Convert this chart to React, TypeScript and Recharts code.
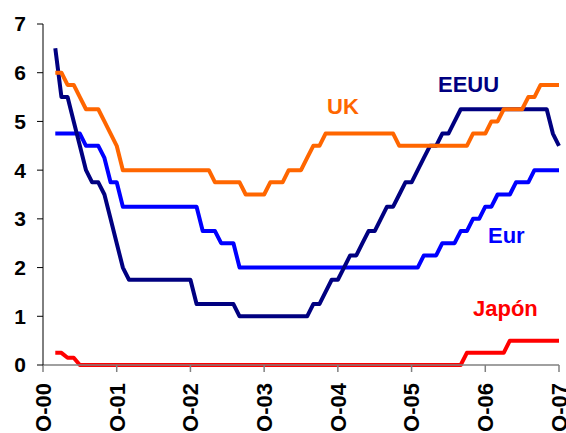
import React from "react";
import { LineChart, Line, XAxis, YAxis } from "recharts";

// Month index 0 = October 2000; first data point is December 2000 (index 2), last October 2007 (index 84)
const FIRST_MONTH = 2;

const X_TICKS = [0, 12, 24, 36, 48, 60, 72, 84];
const X_TICK_LABELS = ["O-00", "O-01", "O-02", "O-03", "O-04", "O-05", "O-06", "O-07"];
const Y_TICKS = [0, 1, 2, 3, 4, 5, 6, 7];

const EEUU = [
  6.5, 5.5, 5.5, 5.0, 4.5, 4.0, 3.75, 3.75, 3.5, 3.0, 2.5, 2.0, 1.75,
  1.75, 1.75, 1.75, 1.75, 1.75, 1.75, 1.75, 1.75, 1.75, 1.75,
  1.25, 1.25, 1.25, 1.25, 1.25, 1.25, 1.25,
  1.0, 1.0, 1.0, 1.0, 1.0, 1.0, 1.0, 1.0, 1.0, 1.0, 1.0, 1.0,
  1.25, 1.25, 1.5, 1.75, 1.75, 2.0, 2.25, 2.25, 2.5, 2.75, 2.75, 3.0, 3.25, 3.25,
  3.5, 3.75, 3.75, 4.0, 4.25, 4.5, 4.5, 4.75, 4.75, 5.0, 5.25,
  5.25, 5.25, 5.25, 5.25, 5.25, 5.25, 5.25, 5.25, 5.25, 5.25, 5.25, 5.25, 5.25, 5.25,
  4.75, 4.5,
];

const UK = [
  6.0, 6.0, 5.75, 5.75, 5.5, 5.25, 5.25, 5.25, 5.0, 4.75, 4.5, 4.0,
  4.0, 4.0, 4.0, 4.0, 4.0, 4.0, 4.0, 4.0, 4.0, 4.0, 4.0, 4.0, 4.0, 4.0,
  3.75, 3.75, 3.75, 3.75, 3.75,
  3.5, 3.5, 3.5, 3.5,
  3.75, 3.75, 3.75,
  4.0, 4.0, 4.0,
  4.25, 4.5, 4.5,
  4.75, 4.75, 4.75, 4.75, 4.75, 4.75, 4.75, 4.75, 4.75, 4.75, 4.75, 4.75,
  4.5, 4.5, 4.5, 4.5, 4.5, 4.5, 4.5, 4.5, 4.5, 4.5, 4.5, 4.5,
  4.75, 4.75, 4.75,
  5.0, 5.0,
  5.25, 5.25, 5.25, 5.25,
  5.5, 5.5,
  5.75, 5.75, 5.75, 5.75,
];

const EUR = [
  4.75, 4.75, 4.75, 4.75, 4.75,
  4.5, 4.5, 4.5,
  4.25,
  3.75, 3.75,
  3.25, 3.25, 3.25, 3.25, 3.25, 3.25, 3.25, 3.25, 3.25, 3.25, 3.25, 3.25, 3.25,
  2.75, 2.75, 2.75,
  2.5, 2.5, 2.5,
  2.0, 2.0, 2.0, 2.0, 2.0, 2.0, 2.0, 2.0, 2.0, 2.0,
  2.0, 2.0, 2.0, 2.0, 2.0, 2.0, 2.0, 2.0, 2.0, 2.0,
  2.0, 2.0, 2.0, 2.0, 2.0, 2.0, 2.0, 2.0, 2.0, 2.0,
  2.25, 2.25, 2.25,
  2.5, 2.5, 2.5,
  2.75, 2.75,
  3.0, 3.0,
  3.25, 3.25,
  3.5, 3.5, 3.5,
  3.75, 3.75, 3.75,
  4.0, 4.0, 4.0, 4.0, 4.0,
];

const JAPON = [
  0.25, 0.25,
  0.15, 0.15,
  0, 0, 0, 0, 0, 0, 0, 0, 0, 0,
  0, 0, 0, 0, 0, 0, 0, 0, 0, 0,
  0, 0, 0, 0, 0, 0, 0, 0, 0, 0,
  0, 0, 0, 0, 0, 0, 0, 0, 0, 0,
  0, 0, 0, 0, 0, 0, 0, 0, 0, 0,
  0, 0, 0, 0, 0, 0, 0, 0, 0, 0,
  0, 0, 0,
  0.25, 0.25, 0.25, 0.25, 0.25, 0.25, 0.25,
  0.5, 0.5, 0.5, 0.5, 0.5, 0.5, 0.5, 0.5, 0.5,
];

const data = EEUU.map((v, i) => ({
  m: FIRST_MONTH + i,
  eeuu: v,
  uk: UK[i],
  eur: EUR[i],
  japon: JAPON[i],
}));

const FONT = "Arial, 'Liberation Sans', sans-serif";

const XTick = (props: any) => {
  const { x, y, payload } = props;
  const idx = X_TICKS.indexOf(payload.value);
  return (
    <g transform={`translate(${x},${y})`}>
      <text
        transform="rotate(-90)"
        textAnchor="end"
        dy="0.36em"
        fontFamily={FONT}
        fontWeight="bold"
        fontSize={22}
        fill="#000"
      >
        {X_TICK_LABELS[idx]}
      </text>
    </g>
  );
};

export default function App() {
  return (
    <div style={{ position: "absolute", left: 0, top: 0, width: 566, height: 433, background: "#fff" }}>
      <LineChart
        width={566}
        height={433}
        data={data}
        margin={{ top: 24, right: 7, bottom: 0, left: 0 }}
      >
        <XAxis
          dataKey="m"
          type="number"
          domain={[0, 84]}
          ticks={X_TICKS}
          interval={0}
          height={68}
          tickSize={7}
          tickMargin={11}
          axisLine={{ stroke: "#808080", strokeWidth: 1.5 }}
          tickLine={{ stroke: "#808080", strokeWidth: 1.5 }}
          tick={<XTick />}
        />
        <YAxis
          type="number"
          domain={[0, 7]}
          ticks={Y_TICKS}
          interval={0}
          width={43}
          tickSize={6}
          tickMargin={11}
          axisLine={{ stroke: "#000", strokeWidth: 1 }}
          tickLine={{ stroke: "#000", strokeWidth: 1 }}
          tick={{ fontFamily: FONT, fontWeight: "bold", fontSize: 21, fill: "#000" }}
        />
        <Line dataKey="eur" type="linear" stroke="#0000FF" strokeWidth={4} dot={false} isAnimationActive={false} strokeLinejoin="round" />
        <Line dataKey="eeuu" type="linear" stroke="#000080" strokeWidth={4} dot={false} isAnimationActive={false} strokeLinejoin="round" />
        <Line dataKey="uk" type="linear" stroke="#FF6600" strokeWidth={4} dot={false} isAnimationActive={false} strokeLinejoin="round" />
        <Line dataKey="japon" type="linear" stroke="#FF0000" strokeWidth={4} dot={false} isAnimationActive={false} strokeLinejoin="round" />
        <text x={438} y={92} fill="#000080" fontFamily={FONT} fontWeight="bold" fontSize={22}>EEUU</text>
        <text x={327} y={114} fill="#FF6600" fontFamily={FONT} fontWeight="bold" fontSize={22}>UK</text>
        <text x={488} y={243} fill="#0000FF" fontFamily={FONT} fontWeight="bold" fontSize={22}>Eur</text>
        <text x={473} y={316} fill="#FF0000" fontFamily={FONT} fontWeight="bold" fontSize={22}>Japón</text>
      </LineChart>
    </div>
  );
}
